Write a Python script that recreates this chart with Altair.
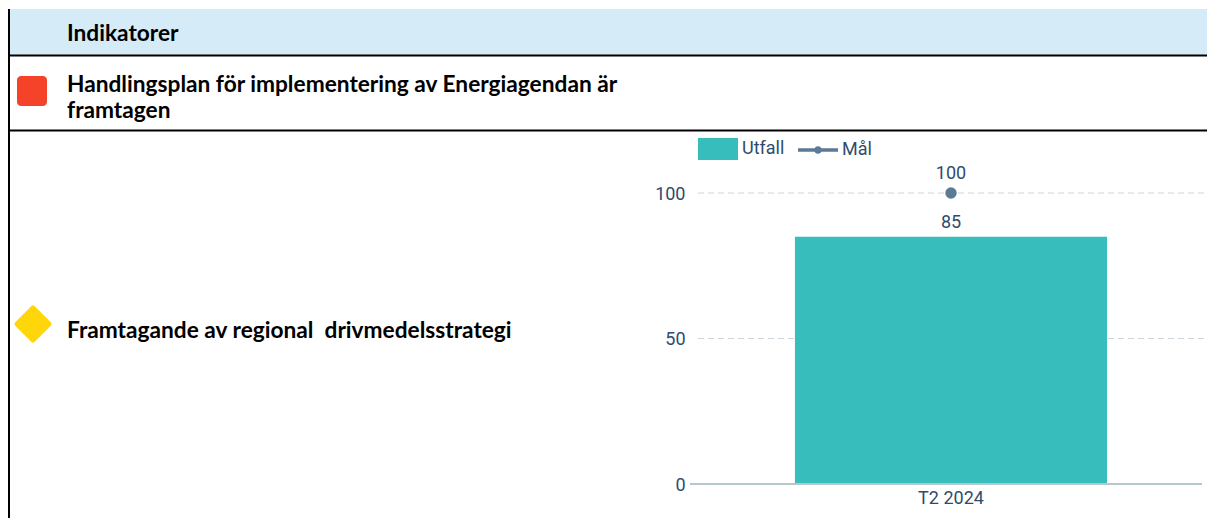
import altair as alt
import pandas as pd

periods = ["T2 2024"]
utfall = [85]
mal = [100]
series = ["Utfall", "Mål"]
grid_values = [50, 100]
base_values = [0]
header = "Indikatorer"
row1_lines = ["Handlingsplan för implementering av Energiagendan är", "framtagen"]
row2_lines = ["Framtagande av regional\u00a0 drivmedelsstrategi"]

OX, OY = 698, 193  # plot origin in page pixels
W, H = 506, 291
def X(v): return alt.value(v - OX)
def Y(v): return alt.value(v - OY)

TEAL = "#38bdbd"
SLATE = "#5b7a95"
INK = "#2f4b6e"

df_u = pd.DataFrame({"period": periods, "value": utfall, "serie": ["Utfall"]})
df_m = pd.DataFrame({"period": periods, "value": mal, "serie": ["Mål"]})
df_s = pd.DataFrame({"serie": series})
df_g = pd.DataFrame({"value": grid_values})
df_b = pd.DataFrame({"value": base_values})

xenc = alt.X("period:N", title=None, scale=alt.Scale(padding=0.237),
             axis=alt.Axis(domain=False, ticks=False, labelAngle=0, labelFont="Roboto", labelFontSize=18,
                           labelColor=INK, labelPadding=5, grid=False))
yscale = alt.Scale(domain=[0, 100], nice=False)
yenc = alt.Y("value:Q", title=None, scale=yscale,
             axis=alt.Axis(values=[0, 50, 100], domain=False, ticks=False, grid=False, labelFont="Roboto",
                           labelFontSize=18, labelColor=INK, labelPadding=13, labelOffset=1))
color_scale = alt.Scale(domain=series, range=[TEAL, SLATE])
shape_scale = alt.Scale(domain=series, range=[
    "M-1,-.55H1V.55H-1Z",
    "M-1,-.09H1V.09H-1ZM-.19,0A.19,.19 0 1 1 .19,0A.19,.19 0 1 1 -.19,0Z",
])

def text(s, x, y, size=22.7):
    return alt.Chart(pd.DataFrame({"t": [s]})).mark_text(
        align="left", baseline="middle", font="Lato", fontWeight="bold", fontSize=size, color="#000000"
    ).encode(x=X(x), y=Y(y), text="t:N")

one = pd.DataFrame({"a": [1]})
band = alt.Chart(one).mark_rect(color="#d5ecf8").encode(x=X(10), x2=X(1215), y=Y(9), y2=Y(55))
def hline(y):
    return alt.Chart(one).mark_rule(color="#000000", strokeWidth=2).encode(x=X(9), x2=X(1215), y=Y(y))
vline = alt.Chart(one).mark_rule(color="#000000", strokeWidth=2).encode(x=X(9), y=Y(9), y2=Y(518))
red = alt.Chart(one).mark_rect(color="#f44329", cornerRadius=4).encode(x=X(17), x2=X(47), y=Y(76), y2=Y(106))
yellow = alt.Chart(one).mark_point(shape="diamond", filled=True, color="#ffd60a", size=1024,
                                   stroke="#ffd60a", strokeWidth=5, strokeJoin="round", opacity=1
                                   ).encode(x=X(33), y=Y(324))

grid = alt.Chart(df_g).mark_rule(color="#ccd5dc", strokeDash=[6, 4], strokeWidth=1).encode(
    x=alt.value(0), x2=alt.value(506), y=yenc)
bars = alt.Chart(df_u).mark_bar(color=TEAL).encode(x=xenc, y=yenc)
baseline = alt.Chart(df_b).mark_rule(color="#b7c7d0", strokeWidth=2).encode(
    x=X(690), x2=X(1202), y=yenc)
bar_label = alt.Chart(df_u).mark_text(font="Roboto", fontSize=18, color=INK, dy=-14).encode(
    x=xenc, y=yenc, text="value:Q")
dot = alt.Chart(df_m).mark_circle(color=SLATE, size=130, opacity=1).encode(x=xenc, y=yenc)
dot_label = alt.Chart(df_m).mark_text(font="Roboto", fontSize=18, color=INK, dy=-19).encode(
    x=xenc, y=yenc, text="value:Q")
legend = alt.Legend(title=None, orient="none", legendX=0, legendY=-64, direction="horizontal",
                    symbolSize=1600, symbolStrokeWidth=0, labelFont="Roboto", labelFontSize=18,
                    labelColor=INK, labelOffset=4, columnPadding=13, padding=0, symbolOpacity=1)
legend_layer = alt.Chart(df_s).mark_point(filled=True, size=0, opacity=1).encode(
    color=alt.Color("serie:N", scale=color_scale, legend=legend),
    shape=alt.Shape("serie:N", scale=shape_scale, legend=legend))

chart = alt.layer(
    band, hline(55.5), hline(130.5), vline, red, yellow,
    text(header, 67, 34),
    text(row1_lines[0], 67, 85), text(row1_lines[1], 67, 111),
    text(row2_lines[0], 67, 331),
    grid, bars, baseline, bar_label, dot, dot_label, legend_layer,
).properties(
    width=W, height=H,
    padding={"left": OX - 8, "top": OY - 8, "right": 3, "bottom": 34},
    autosize=alt.AutoSizeParams(type="none"),
).configure_view(stroke=None)

chart.save("out.html", embed_options={"renderer": "svg", "actions": False})
